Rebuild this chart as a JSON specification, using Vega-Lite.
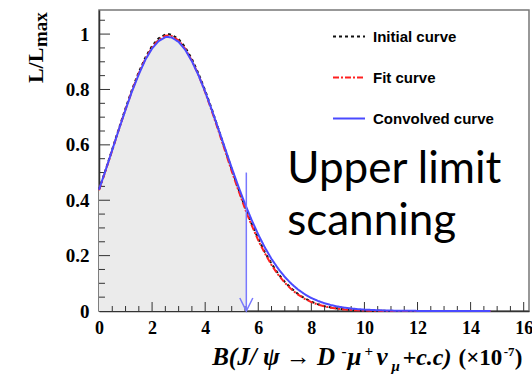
{
  "$schema": "https://vega.github.io/schema/vega-lite/v6.json",
  "width": 430,
  "height": 301,
  "autosize": "none",
  "padding": {"left": 99, "top": 10, "right": 3, "bottom": 63},
  "background": "white",
  "config": {
    "view": {"stroke": "#777777", "strokeWidth": 1.5},
    "axis": {
      "grid": false,
      "title": null,
      "zindex": 2,
      "domainColor": "#333333",
      "domainWidth": 1.5,
      "labelFont": "Liberation Serif",
      "labelFontWeight": "bold",
      "labelFontSize": 19,
      "labelColor": "black",
      "labelOverlap": false,
      "labelFlush": false
    }
  },
  "resolve": {"axis": {"x": "independent", "y": "independent"}},
  "datasets": {
    "curves": [
      {"x": 0, "Initial curve": 0.4385, "Fit curve": 0.436, "Convolved curve": 0.438},
      {"x": 0.25, "Initial curve": 0.51, "Fit curve": 0.507, "Convolved curve": 0.509},
      {"x": 0.5, "Initial curve": 0.584, "Fit curve": 0.581, "Convolved curve": 0.582},
      {"x": 0.75, "Initial curve": 0.659, "Fit curve": 0.656, "Convolved curve": 0.656},
      {"x": 1.0, "Initial curve": 0.732, "Fit curve": 0.728, "Convolved curve": 0.727},
      {"x": 1.25, "Initial curve": 0.801, "Fit curve": 0.797, "Convolved curve": 0.795},
      {"x": 1.5, "Initial curve": 0.863, "Fit curve": 0.859, "Convolved curve": 0.855},
      {"x": 1.75, "Initial curve": 0.916, "Fit curve": 0.911, "Convolved curve": 0.908},
      {"x": 2.0, "Initial curve": 0.957, "Fit curve": 0.952, "Convolved curve": 0.948},
      {"x": 2.25, "Initial curve": 0.985, "Fit curve": 0.98, "Convolved curve": 0.975},
      {"x": 2.5, "Initial curve": 0.999, "Fit curve": 0.994, "Convolved curve": 0.989},
      {"x": 2.6, "Initial curve": 1.0, "Fit curve": 0.995, "Convolved curve": 0.99},
      {"x": 2.75, "Initial curve": 0.997, "Fit curve": 0.992, "Convolved curve": 0.987},
      {"x": 3.0, "Initial curve": 0.982, "Fit curve": 0.977, "Convolved curve": 0.972},
      {"x": 3.25, "Initial curve": 0.952, "Fit curve": 0.947, "Convolved curve": 0.943},
      {"x": 3.5, "Initial curve": 0.91, "Fit curve": 0.904, "Convolved curve": 0.902},
      {"x": 3.75, "Initial curve": 0.857, "Fit curve": 0.852, "Convolved curve": 0.851},
      {"x": 4.0, "Initial curve": 0.796, "Fit curve": 0.79, "Convolved curve": 0.792},
      {"x": 4.25, "Initial curve": 0.729, "Fit curve": 0.722, "Convolved curve": 0.726},
      {"x": 4.5, "Initial curve": 0.657, "Fit curve": 0.651, "Convolved curve": 0.657},
      {"x": 4.75, "Initial curve": 0.584, "Fit curve": 0.578, "Convolved curve": 0.587},
      {"x": 5.0, "Initial curve": 0.512, "Fit curve": 0.505, "Convolved curve": 0.517},
      {"x": 5.25, "Initial curve": 0.442, "Fit curve": 0.436, "Convolved curve": 0.45},
      {"x": 5.5, "Initial curve": 0.376, "Fit curve": 0.37, "Convolved curve": 0.387},
      {"x": 5.55, "Initial curve": 0.3635, "Fit curve": 0.357, "Convolved curve": 0.375},
      {"x": 5.75, "Initial curve": 0.315, "Fit curve": 0.31, "Convolved curve": 0.329},
      {"x": 6.0, "Initial curve": 0.261, "Fit curve": 0.255, "Convolved curve": 0.276},
      {"x": 6.25, "Initial curve": 0.212, "Fit curve": 0.208, "Convolved curve": 0.229},
      {"x": 6.5, "Initial curve": 0.171, "Fit curve": 0.166, "Convolved curve": 0.188},
      {"x": 6.75, "Initial curve": 0.135, "Fit curve": 0.131, "Convolved curve": 0.153},
      {"x": 7.0, "Initial curve": 0.105, "Fit curve": 0.102, "Convolved curve": 0.123},
      {"x": 7.25, "Initial curve": 0.081, "Fit curve": 0.0782, "Convolved curve": 0.098},
      {"x": 7.5, "Initial curve": 0.0613, "Fit curve": 0.059, "Convolved curve": 0.0774},
      {"x": 7.75, "Initial curve": 0.0458, "Fit curve": 0.044, "Convolved curve": 0.0607},
      {"x": 8.0, "Initial curve": 0.0337, "Fit curve": 0.0322, "Convolved curve": 0.047},
      {"x": 8.25, "Initial curve": 0.0244, "Fit curve": 0.0233, "Convolved curve": 0.0364},
      {"x": 8.5, "Initial curve": 0.0175, "Fit curve": 0.0166, "Convolved curve": 0.0277},
      {"x": 8.75, "Initial curve": 0.0123, "Fit curve": 0.0116, "Convolved curve": 0.0211},
      {"x": 9.0, "Initial curve": 0.0085, "Fit curve": 0.008, "Convolved curve": 0.016},
      {"x": 9.25, "Initial curve": 0.0058, "Fit curve": 0.0055, "Convolved curve": 0.0121},
      {"x": 9.5, "Initial curve": 0.0039, "Fit curve": 0.0037, "Convolved curve": 0.009},
      {"x": 9.75, "Initial curve": 0.0026, "Fit curve": 0.0024, "Convolved curve": 0.0067},
      {"x": 10.0, "Initial curve": 0.0017, "Fit curve": 0.0016, "Convolved curve": 0.005},
      {"x": 10.5, "Initial curve": 0.0007, "Fit curve": 0.0006, "Convolved curve": 0.0027},
      {"x": 11.0, "Initial curve": 0.0003, "Fit curve": 0.0002, "Convolved curve": 0.0015},
      {"x": 11.5, "Initial curve": 0.0001, "Fit curve": 0.0001, "Convolved curve": 0.0008},
      {"x": 12.0, "Initial curve": 0, "Fit curve": 0, "Convolved curve": 0.0004},
      {"x": 13.0, "Initial curve": 0, "Fit curve": 0, "Convolved curve": 0.0001},
      {"x": 14.0, "Initial curve": 0, "Fit curve": 0, "Convolved curve": 0},
      {"x": 14.75, "Initial curve": 0, "Fit curve": 0, "Convolved curve": 0}
    ],
    "xticks": [
      {"at": 0.5, "kind": "minor"}, {"at": 1, "kind": "minor"}, {"at": 1.5, "kind": "minor"}, {"at": 2, "kind": "major"},
      {"at": 2.5, "kind": "minor"}, {"at": 3, "kind": "minor"}, {"at": 3.5, "kind": "minor"}, {"at": 4, "kind": "major"},
      {"at": 4.5, "kind": "minor"}, {"at": 5, "kind": "minor"}, {"at": 5.5, "kind": "minor"}, {"at": 6, "kind": "major"},
      {"at": 6.5, "kind": "minor"}, {"at": 7, "kind": "minor"}, {"at": 7.5, "kind": "minor"}, {"at": 8, "kind": "major"},
      {"at": 8.5, "kind": "minor"}, {"at": 9, "kind": "minor"}, {"at": 9.5, "kind": "minor"}, {"at": 10, "kind": "major"},
      {"at": 10.5, "kind": "minor"}, {"at": 11, "kind": "minor"}, {"at": 11.5, "kind": "minor"}, {"at": 12, "kind": "major"},
      {"at": 12.5, "kind": "minor"}, {"at": 13, "kind": "minor"}, {"at": 13.5, "kind": "minor"}, {"at": 14, "kind": "major"},
      {"at": 14.5, "kind": "minor"}, {"at": 15, "kind": "minor"}, {"at": 15.5, "kind": "minor"}, {"at": 16, "kind": "major"}
    ],
    "yticks": [
      {"at": 0.05, "kind": "minor"}, {"at": 0.1, "kind": "minor"}, {"at": 0.15, "kind": "minor"}, {"at": 0.2, "kind": "major"},
      {"at": 0.25, "kind": "minor"}, {"at": 0.3, "kind": "minor"}, {"at": 0.35, "kind": "minor"}, {"at": 0.4, "kind": "major"},
      {"at": 0.45, "kind": "minor"}, {"at": 0.5, "kind": "minor"}, {"at": 0.55, "kind": "minor"}, {"at": 0.6, "kind": "major"},
      {"at": 0.65, "kind": "minor"}, {"at": 0.7, "kind": "minor"}, {"at": 0.75, "kind": "minor"}, {"at": 0.8, "kind": "major"},
      {"at": 0.85, "kind": "minor"}, {"at": 0.9, "kind": "minor"}, {"at": 0.95, "kind": "minor"}, {"at": 1.0, "kind": "major"},
      {"at": 1.05, "kind": "minor"}
    ],
    "limit": [{"limit": 5.55, "top": 0.5}],
    "note": [{"line": "Upper limit"}]
  },
  "layer": [
    {
      "data": {"name": "curves"},
      "transform": [{"filter": "datum.x <= 5.55"}],
      "mark": {"type": "area", "color": "#ebebeb", "line": false},
      "encoding": {
        "x": {
          "field": "x",
          "type": "quantitative",
          "scale": {"domain": [0, 16.2], "nice": false, "zero": false},
          "axis": {
            "orient": "bottom",
            "values": [0, 2, 4, 6, 8, 10, 12, 14, 16],
            "format": "d",
            "ticks": false,
            "labelFontSize": 18,
            "labelPadding": 8
          }
        },
        "y": {
          "field": "Convolved curve",
          "type": "quantitative",
          "scale": {"domain": [0, 1.087], "nice": false, "zero": false},
          "axis": {
            "orient": "left",
            "values": [0, 0.2, 0.4, 0.6, 0.8, 1],
            "format": ".1~f",
            "ticks": false,
            "labelPadding": 10
          }
        }
      }
    },
    {
      "data": {"name": "xticks"},
      "transform": [{"filter": "datum.kind == 'major'"}],
      "mark": {"type": "rule", "color": "#333333", "strokeWidth": 1},
      "encoding": {
        "x": {"field": "at", "type": "quantitative", "axis": null},
        "y": {"datum": 0, "axis": null},
        "y2": {"datum": 0.0325}
      }
    },
    {
      "data": {"name": "xticks"},
      "transform": [{"filter": "datum.kind == 'minor'"}],
      "mark": {"type": "rule", "color": "#333333", "strokeWidth": 1},
      "encoding": {
        "x": {"field": "at", "type": "quantitative", "axis": null},
        "y": {"datum": 0, "axis": null},
        "y2": {"datum": 0.018}
      }
    },
    {
      "data": {"name": "yticks"},
      "transform": [{"filter": "datum.kind == 'major'"}],
      "mark": {"type": "rule", "color": "#333333", "strokeWidth": 1},
      "encoding": {
        "y": {"field": "at", "type": "quantitative", "axis": null},
        "x": {"datum": 0, "axis": null},
        "x2": {"datum": 0.415}
      }
    },
    {
      "data": {"name": "yticks"},
      "transform": [{"filter": "datum.kind == 'minor'"}],
      "mark": {"type": "rule", "color": "#333333", "strokeWidth": 1},
      "encoding": {
        "y": {"field": "at", "type": "quantitative", "axis": null},
        "x": {"datum": 0, "axis": null},
        "x2": {"datum": 0.226}
      }
    },
    {
      "data": {"name": "curves"},
      "transform": [{"fold": ["Initial curve", "Fit curve", "Convolved curve"], "as": ["curve", "value"]}],
      "mark": {"type": "line", "strokeWidth": 2},
      "encoding": {
        "x": {"field": "x", "type": "quantitative", "axis": null},
        "y": {"field": "value", "type": "quantitative", "axis": null},
        "color": {
          "field": "curve",
          "type": "nominal",
          "scale": {"domain": ["Initial curve", "Fit curve", "Convolved curve"], "range": ["#111111", "#ff2020", "#4a4aff"]},
          "legend": {
            "orient": "none",
            "legendX": 233,
            "legendY": 9.5,
            "title": null,
            "symbolType": "stroke",
            "symbolSize": 1024,
            "symbolStrokeWidth": 2,
            "labelFont": "Liberation Sans",
            "labelFontWeight": "bold",
            "labelFontSize": 15,
            "labelColor": "black",
            "labelOffset": 7,
            "rowPadding": 16
          }
        },
        "strokeDash": {
          "field": "curve",
          "type": "nominal",
          "scale": {"domain": ["Initial curve", "Fit curve", "Convolved curve"], "range": [[3, 3], [6, 2, 2, 2], [1, 0]]},
          "legend": {
            "orient": "none",
            "legendX": 233,
            "legendY": 9.5,
            "title": null,
            "symbolType": "stroke",
            "symbolSize": 1024,
            "symbolStrokeWidth": 2,
            "labelFont": "Liberation Sans",
            "labelFontWeight": "bold",
            "labelFontSize": 15,
            "labelColor": "black",
            "labelOffset": 7,
            "rowPadding": 16
          }
        }
      }
    },
    {
      "data": {"name": "limit"},
      "mark": {"type": "rule", "color": "#7878ff", "strokeWidth": 1.5},
      "encoding": {
        "x": {"field": "limit", "type": "quantitative", "axis": null},
        "y": {"field": "top", "type": "quantitative", "axis": null},
        "y2": {"datum": 0}
      }
    },
    {
      "data": {"name": "limit"},
      "mark": {"type": "point", "shape": "M-1,-2L0,0L1,-2", "filled": false, "size": 169, "color": "#7878ff", "strokeWidth": 1.5, "opacity": 1},
      "encoding": {
        "x": {"field": "limit", "type": "quantitative", "axis": null},
        "y": {"datum": 0, "axis": null}
      }
    },
    {
      "data": {"name": "note"},
      "mark": {"type": "text", "text": ["Upper limit", "scanning"], "font": "Lato", "fontSize": 44, "align": "left", "baseline": "alphabetic", "lineHeight": 52, "color": "black"},
      "encoding": {"x": {"datum": 7.09, "axis": null}, "y": {"datum": 0.462, "axis": null}}
    },
    {
      "data": {"name": "note"},
      "mark": {"type": "text", "text": "L/L", "font": "Liberation Serif", "fontWeight": "bold", "fontSize": 22, "angle": 270, "align": "left", "baseline": "alphabetic", "color": "black"},
      "encoding": {"x": {"datum": -2.11, "axis": null}, "y": {"datum": 0.823, "axis": null}}
    },
    {
      "data": {"name": "note"},
      "mark": {"type": "text", "text": "max", "font": "Liberation Serif", "fontWeight": "bold", "fontSize": 19, "angle": 270, "align": "left", "baseline": "alphabetic", "color": "black"},
      "encoding": {"x": {"datum": -1.96, "axis": null}, "y": {"datum": 0.953, "axis": null}}
    },
    {
      "data": {"name": "note"},
      "mark": {"type": "text", "text": "B(J/ ψ → D", "font": "Liberation Serif", "fontWeight": "bold", "fontStyle": "italic", "fontSize": 25, "align": "left", "baseline": "alphabetic", "color": "black"},
      "encoding": {"x": {"datum": 4.264, "axis": null}, "y": {"datum": -0.195, "axis": null}}
    },
    {
      "data": {"name": "note"},
      "mark": {"type": "text", "text": "-", "font": "Liberation Serif", "fontWeight": "bold", "fontSize": 15, "align": "left", "baseline": "alphabetic", "color": "black"},
      "encoding": {"x": {"datum": 9.132, "axis": null}, "y": {"datum": -0.1625, "axis": null}}
    },
    {
      "data": {"name": "note"},
      "mark": {"type": "text", "text": "μ", "font": "Liberation Serif", "fontWeight": "bold", "fontStyle": "italic", "fontSize": 25, "align": "left", "baseline": "alphabetic", "color": "black"},
      "encoding": {"x": {"datum": 9.358, "axis": null}, "y": {"datum": -0.195, "axis": null}}
    },
    {
      "data": {"name": "note"},
      "mark": {"type": "text", "text": "+", "font": "Liberation Serif", "fontWeight": "bold", "fontSize": 15, "align": "left", "baseline": "alphabetic", "color": "black"},
      "encoding": {"x": {"datum": 10.0, "axis": null}, "y": {"datum": -0.1625, "axis": null}}
    },
    {
      "data": {"name": "note"},
      "mark": {"type": "text", "text": "ν", "font": "Liberation Serif", "fontWeight": "bold", "fontStyle": "italic", "fontSize": 25, "align": "left", "baseline": "alphabetic", "color": "black"},
      "encoding": {"x": {"datum": 10.453, "axis": null}, "y": {"datum": -0.195, "axis": null}}
    },
    {
      "data": {"name": "note"},
      "mark": {"type": "text", "text": "μ", "font": "Liberation Serif", "fontWeight": "bold", "fontStyle": "italic", "fontSize": 15, "align": "left", "baseline": "alphabetic", "color": "black"},
      "encoding": {"x": {"datum": 11.019, "axis": null}, "y": {"datum": -0.2166, "axis": null}}
    },
    {
      "data": {"name": "note"},
      "mark": {"type": "text", "text": "+c.c)", "font": "Liberation Serif", "fontWeight": "bold", "fontStyle": "italic", "fontSize": 24, "align": "left", "baseline": "alphabetic", "color": "black"},
      "encoding": {"x": {"datum": 11.434, "axis": null}, "y": {"datum": -0.195, "axis": null}}
    },
    {
      "data": {"name": "note"},
      "mark": {"type": "text", "text": "(×10", "font": "Liberation Serif", "fontWeight": "bold", "fontSize": 23, "align": "left", "baseline": "alphabetic", "color": "black"},
      "encoding": {"x": {"datum": 13.547, "axis": null}, "y": {"datum": -0.195, "axis": null}}
    },
    {
      "data": {"name": "note"},
      "mark": {"type": "text", "text": "-7", "font": "Liberation Serif", "fontWeight": "bold", "fontSize": 13, "align": "left", "baseline": "alphabetic", "color": "black"},
      "encoding": {"x": {"datum": 15.245, "axis": null}, "y": {"datum": -0.1625, "axis": null}}
    },
    {
      "data": {"name": "note"},
      "mark": {"type": "text", "text": ")", "font": "Liberation Serif", "fontWeight": "bold", "fontSize": 23, "align": "left", "baseline": "alphabetic", "color": "black"},
      "encoding": {"x": {"datum": 15.66, "axis": null}, "y": {"datum": -0.195, "axis": null}}
    }
  ]
}
